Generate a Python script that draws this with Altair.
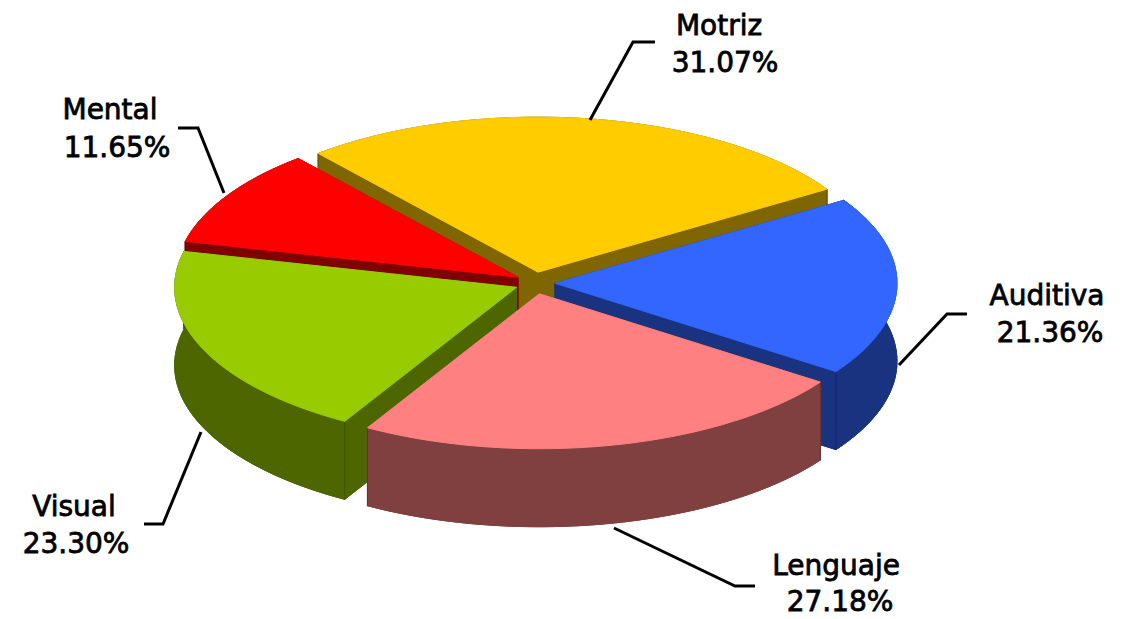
import math
import altair as alt

# --- data ---
categories = ["Motriz", "Auditiva", "Lenguaje", "Visual", "Mental"]
values = [31.07, 21.36, 27.18, 23.30, 11.65]
top_colors = ["#FFCC00", "#3366FF", "#FF8080", "#99CC00", "#FF0000"]
wall_colors = ["#806600", "#1A3380", "#804040", "#4D6600", "#800000"]
seam_colors = ["#665200", "#142966", "#663333", "#3D5200", "#660000"]

# --- layout of the tilted pie (reference pixels) ---
CX, CY = 535, 283
RX, RY = 342, 155
EX, EY = 20, 11
DEPTH = 78
START = -40.0
DRAW_ORDER = ["Motriz", "Mental", "Auditiva", "Visual", "Lenguaje"]

leader_paths = {
    "Motriz": [(590, 120), (633, 42), (655, 42)],
    "Auditiva": [(899, 365), (947, 314), (967, 314)],
    "Lenguaje": [(614, 528), (735, 586), (755, 586)],
    "Visual": [(201, 432), (163, 524), (144, 524)],
    "Mental": [(224, 193), (198, 128), (178, 128)],
}
label_anchor = {
    "Motriz": (719, 35, 725, 72),
    "Auditiva": (1047, 305, 1050, 342),
    "Lenguaje": (836, 575, 840, 611),
    "Visual": (74, 516, 76, 553),
    "Mental": (110, 119, 117, 157),
}


def poly(points, fill, stroke):
    ring = [list(p) for p in points] + [list(points[0])]
    return {"type": "Feature", "properties": {"fill": fill, "stroke": stroke},
            "geometry": {"type": "Polygon", "coordinates": [ring]}}


def seg(points, stroke):
    return {"type": "Feature", "properties": {"fill": "none", "stroke": stroke},
            "geometry": {"type": "LineString", "coordinates": [list(p) for p in points]}}


total = sum(values)
slices = {}
a = START
for name, v, tc, wc, sc in zip(categories, values, top_colors, wall_colors, seam_colors):
    sweep = v / total * 360
    slices[name] = (a, a + sweep, tc, wc, sc)
    a += sweep

features = []
for name in DRAW_ORDER:
    a0, a1, tc, wc, sc = slices[name]
    mid = math.radians((a0 + a1) / 2)
    tx = CX + EX * math.sin(mid)
    ty = CY - EY * math.cos(mid)
    n = max(8, int((a1 - a0) / 2))
    arc = []
    for i in range(n + 1):
        t = math.radians(a0 + (a1 - a0) * i / n)
        arc.append((tx + RX * math.sin(t), ty - RY * math.cos(t)))
    down = lambda p: (p[0], p[1] + DEPTH)
    tip = (tx, ty)
    # bottom, cut faces, outer wall, seams, then top
    features.append(poly([down(tip)] + [down(p) for p in arc], wc, wc))
    features.append(poly([tip, arc[0], down(arc[0]), down(tip)], wc, wc))
    features.append(poly([tip, arc[-1], down(arc[-1]), down(tip)], wc, wc))
    features.append(poly(arc + [down(p) for p in reversed(arc)], wc, wc))
    features.append(seg([arc[0], down(arc[0])], sc))
    features.append(seg([arc[-1], down(arc[-1])], sc))
    features.append(poly([tip] + arc, tc, tc))

leaders = [{"type": "Feature", "properties": {"name": k},
            "geometry": {"type": "LineString", "coordinates": [list(p) for p in v]}}
           for k, v in leader_paths.items()]

text_rows = []
for name, v in zip(categories, values):
    x1, y1, x2, y2 = label_anchor[name]
    text_rows.append({"lon": x1, "lat": y1, "t": name})
    text_rows.append({"lon": x2, "lat": y2, "t": f"{v:.2f}%"})

proj = dict(type="identity", scale=1, translate=[-8, -8])

fc = lambda f: alt.InlineData(values={"type": "FeatureCollection", "features": f},
                              format=alt.DataFormat(property="features", type="json"))

pie = alt.Chart(fc(features)).mark_geoshape(strokeWidth=1).encode(
    fill=alt.Fill("properties.fill:N", scale=None),
    stroke=alt.Stroke("properties.stroke:N", scale=None),
).project(**proj)

lines = alt.Chart(fc(leaders)).mark_geoshape(
    filled=False, stroke="#000000", strokeWidth=3
).project(**proj)

labels = alt.Chart(alt.Data(values=text_rows)).mark_text(
    font="DejaVu Sans", fontSize=28, align="center", baseline="alphabetic",
    color="#000000", stroke="#000000", strokeWidth=0.8,
).encode(
    longitude="lon:Q", latitude="lat:Q", text="t:N"
).project(**proj)

chart = alt.layer(pie, lines, labels).properties(
    width=1110, height=611, padding=0, background="#FFFFFF",
).configure_view(stroke=None)

chart.save("out.html", embed_options={"renderer": "svg", "actions": False})
